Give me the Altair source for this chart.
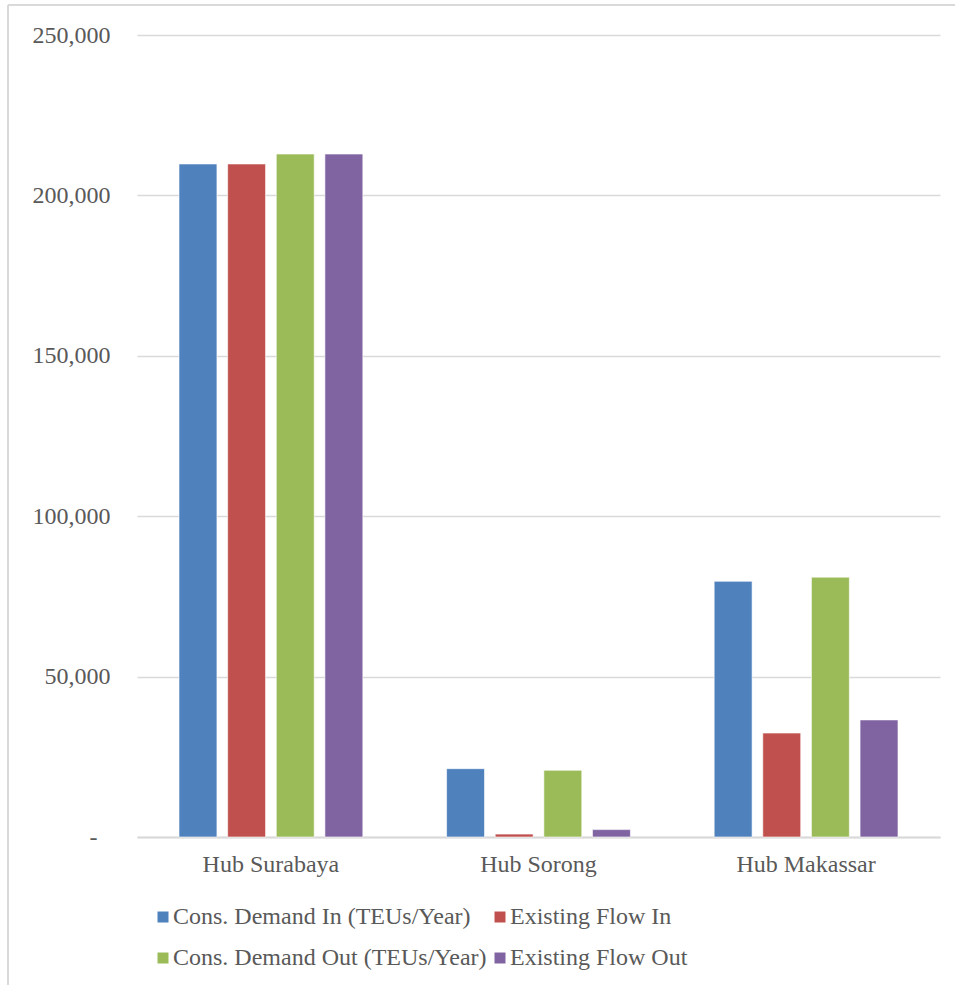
import altair as alt
import pandas as pd

hubs = ["Hub Surabaya", "Hub Sorong", "Hub Makassar"]
series_names = [
    "Cons. Demand In (TEUs/Year)",
    "Existing Flow In",
    "Cons. Demand Out (TEUs/Year)",
    "Existing Flow Out",
]
cons_demand_in = [209800, 21300, 79700]
existing_flow_in = [209800, 900, 32400]
cons_demand_out = [212900, 20800, 81000]
existing_flow_out = [212900, 2300, 36500]
colors = ["#4F81BD", "#C0504D", "#9BBB59", "#8064A2"]

# legend is filled column by column, so list entries column-wise
legend_order = [series_names[0], series_names[2], series_names[1], series_names[3]]

rows = []
for s, vals in zip(series_names, [cons_demand_in, existing_flow_in, cons_demand_out, existing_flow_out]):
    for h, v in zip(hubs, vals):
        rows.append({"hub": h, "series": s, "value": v})
df = pd.DataFrame(rows)

FONT = "Liberation Serif"
TXT = "#595959"
FS = 24

bars = alt.Chart(df).mark_bar(stroke="#ffffff", strokeWidth=1, strokeOpacity=0.6).encode(
    x=alt.X("hub:N", sort=hubs, title=None,
            scale=alt.Scale(paddingInner=0.313, paddingOuter=0.157),
            axis=alt.Axis(labelAngle=0, ticks=False, domain=True, domainColor="#d9d9d9",
                          domainWidth=2, labelPadding=15, labelFontSize=FS,
                          labelFont=FONT, labelColor=TXT, grid=False)),
    xOffset=alt.XOffset("series:N", sort=series_names,
                        scale=alt.Scale(paddingInner=0.22, paddingOuter=0)),
    y=alt.Y("value:Q", title=None,
            scale=alt.Scale(domain=[0, 250000], nice=False),
            axis=alt.Axis(values=[0, 50000, 100000, 150000, 200000, 250000],
                          labelExpr="datum.value == 0 ? '-' : format(datum.value, ',')",
                          labelPadding={"condition": {"test": "datum.value === 0", "value": 40}, "value": 27},
                          ticks=False, domain=False, grid=True, gridColor="#d9d9d9",
                          gridWidth=1.5, labelFontSize=FS,
                          labelFont=FONT, labelColor=TXT)),
    color=alt.Color("series:N", sort=series_names,
                    scale=alt.Scale(domain=series_names, range=colors),
                    legend=alt.Legend(title=None, orient="none", legendX=14, legendY=870,
                                      values=legend_order,
                                      columns=2, columnPadding=1, rowPadding=17,
                                      symbolType="square", symbolSize=121,
                                      symbolStrokeWidth=0, labelOffset={"expr": "-2"},
                                      labelFont=FONT, labelFontSize=FS, labelColor=TXT,
                                      labelLimit=500)),
)

frame_top = alt.Chart(pd.DataFrame({"a": [0]})).mark_rule(color="#d9d9d9", strokeWidth=2).encode(
    x=alt.value(-129), x2=alt.value(818), y=alt.value(-30)
)
frame_left = alt.Chart(pd.DataFrame({"a": [0]})).mark_rule(color="#d9d9d9", strokeWidth=2).encode(
    x=alt.value(-129), y=alt.value(-30), y2=alt.value(950)
)

chart = alt.layer(bars, frame_top, frame_left).properties(
    width=803, height=802,
    padding={"left": 7, "top": 4, "right": 0, "bottom": 0},
    background="white",
).configure_view(stroke=None)

chart.save("out.html", embed_options={"renderer": "svg", "actions": False})
